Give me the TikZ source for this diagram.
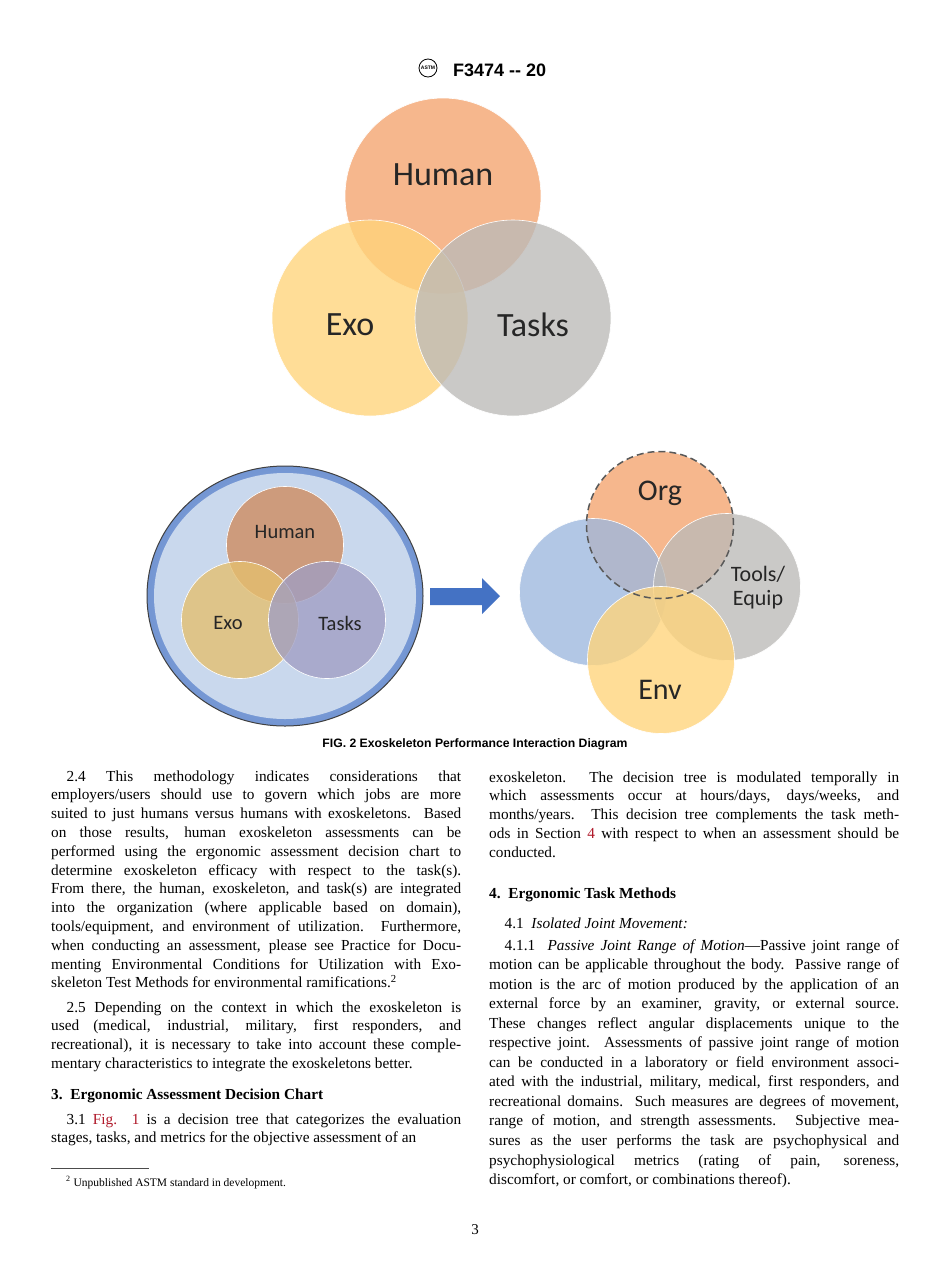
\documentclass[tikz,border=0pt]{standalone}
\usepackage{fontspec}
\setmainfont{Liberation Serif}
\newfontfamily\carl{Carlito}
\newfontfamily\arial{Liberation Sans}
\usetikzlibrary{shapes.geometric}
\definecolor{hum}{HTML}{F4A46E}
\definecolor{exo}{HTML}{FFD47A}
\definecolor{tsk}{HTML}{BCBAB8}
\definecolor{blu}{HTML}{9DB8DE}
\definecolor{lnk}{HTML}{B0192A}
\definecolor{arr}{HTML}{4472C4}
\newcommand{\bodyf}{\fontsize{15.3}{18.8}\selectfont}
\begin{document}
\begin{tikzpicture}[x=1pt,y=-1pt,
 vc/.style={circle,minimum size=#1,inner sep=0,draw=white,line width=0.6pt,fill opacity=0.78},
 lab/.style={font=\carl,text=black!85},
 txt/.style={anchor=base west,inner sep=0,text width=410pt,align=justify,font=\bodyf},
 hd/.style={anchor=base west,inner sep=0,font=\bodyf\bfseries}]
\useasboundingbox (0,0) rectangle (950,1272);
\fill[white] (0,0) rectangle (950,1272);
% header
\node[circle,draw,line width=0.8pt,minimum size=18pt,inner sep=0,font=\arial\bfseries\fontsize{5}{5}\selectfont] (logo) at (428,68) {ASTM};
\node[anchor=base west,inner sep=0,font=\arial\bfseries\fontsize{18}{18}\selectfont] (title) at (453,76) {F3474 -- 20};
% top venn
\node[vc=196pt,fill=hum] (human) at (443,196) {};
\node[vc=196pt,fill=exo] (exo) at (370,318) {};
\node[vc=196pt,fill=tsk] (tasks) at (513,318) {};
\node[lab,font=\carl\fontsize{34}{34}\selectfont] (lh) at (443,175) {Human};
\node[lab,font=\carl\fontsize{34}{34}\selectfont] (le) at (350,325) {Exo};
\node[lab,font=\carl\fontsize{34}{34}\selectfont] (lt) at (533,325) {Tasks};
% bottom left
\node[ellipse,minimum width=276pt,minimum height=260pt,inner sep=0,draw=black!75,line width=1pt,inner color=arr!40,outer color=arr!75] (big) at (285,596) {};
\node[ellipse,minimum width=262pt,minimum height=246pt,inner sep=0,fill=blu!55] (bigin) at (285,596) {};
\node[vc=117pt,fill=hum!85!black] (h2) at (285,545) {};
\node[vc=117pt,fill=exo!90!black] (e2) at (240,620) {};
\node[vc=117pt,fill=tsk!85!blue] (t2) at (327,620) {};
\node[lab,font=\carl\fontsize{20.5}{20.5}\selectfont] at (285,532) {Human};
\node[lab,font=\carl\fontsize{20.5}{20.5}\selectfont] at (228,623) {Exo};
\node[lab,font=\carl\fontsize{20.5}{20.5}\selectfont] at (340,623) {Tasks};
% arrow
\fill[arr] (430,588) -- (482,588) -- (482,578) -- (500,596) -- (482,614) -- (482,605) -- (430,605) -- cycle;
% bottom right
\node[vc=147pt,fill=hum] (org) at (660,525) {};
\node[vc=147pt,fill=blu] (bl) at (593,592) {};
\node[vc=147pt,fill=tsk] (tool) at (727,587) {};
\node[vc=147pt,fill=exo] (env) at (661,660) {};
\draw[black!65,dashed,dash pattern=on 7pt off 4pt,line width=1.5pt] (org) circle (73.5pt);
\node[lab,font=\carl\fontsize{30}{30}\selectfont] at (660,493) {Org};
\node[lab,font=\carl\fontsize{22}{24}\selectfont,align=center] at (758,588) {Tools/\\Equip};
\node[lab,font=\carl\fontsize{30}{30}\selectfont] at (660,690) {Env};
\node[font=\arial\bfseries\fontsize{12.2}{12}\selectfont] (cap) at (475,744) {FIG. 2 Exoskeleton Performance Interaction Diagram};
% left column
\node[txt] (p24) at (51,781) {\hspace*{15.5pt}2.4 This methodology indicates considerations that\linebreak
employers/users should use to govern which jobs are more\linebreak
suited to just humans versus humans with exoskeletons. Based\linebreak
on those results, human exoskeleton assessments can be\linebreak
performed using the ergonomic assessment decision chart to\linebreak
determine exoskeleton efficacy with respect to the task(s).\linebreak
From there, the human, exoskeleton, and task(s) are integrated\linebreak
into the organization (where applicable based on domain),\linebreak
tools/equipment, and environment of utilization. Furthermore,\linebreak
when conducting an assessment, please see Practice for Docu-\linebreak
menting Environmental Conditions for Utilization with Exo-\linebreak
skeleton Test Methods for environmental ramifications.\textsuperscript{2}};
\node[txt] (p25) at (51,1012) {\hspace*{15.5pt}2.5 Depending on the context in which the exoskeleton is\linebreak
used (medical, industrial, military, first responders, and\linebreak
recreational), it is necessary to take into account these comple-\linebreak
mentary characteristics to integrate the exoskeletons better.};
\node[hd] (h3) at (51,1099) {3.\ \ Ergonomic Assessment Decision Chart};
\node[txt] (p31) at (51,1124) {\hspace*{15.5pt}3.1 \textcolor{lnk}{Fig. 1} is a decision tree that categorizes the evaluation\linebreak
stages, tasks, and metrics for the objective assessment of an};
\draw[black!70,line width=0.6pt] (51,1168) -- (149,1168);
\node[anchor=base west,inner sep=0,font=\fontsize{11.5}{13}\selectfont] (fn) at (66,1186) {\textsuperscript{2} Unpublished ASTM standard in development.};
\node[anchor=base,inner sep=0,font=\fontsize{15}{15}\selectfont] (pg) at (475,1234) {3};
% right column
\node[txt] (pr1) at (489,782) {exoskeleton. The decision tree is modulated temporally in\linebreak
which assessments occur at hours/days, days/weeks, and\linebreak
months/years. This decision tree complements the task meth-\linebreak
ods in Section \textcolor{lnk}{4} with respect to when an assessment should be\linebreak
conducted.};
\node[hd] (h4) at (489,898) {4.\ \ Ergonomic Task Methods};
\node[txt] (p41) at (489,928) {\hspace*{15.5pt}4.1\ \ \textit{Isolated Joint Movement:}};
\node[txt,font=\fontsize{15.3}{19.55}\selectfont] (p411) at (489,950) {\hspace*{15.5pt}4.1.1\ \ \textit{Passive Joint Range of Motion}---Passive joint range of\linebreak
motion can be applicable throughout the body. Passive range of\linebreak
motion is the arc of motion produced by the application of an\linebreak
external force by an examiner, gravity, or external source.\linebreak
These changes reflect angular displacements unique to the\linebreak
respective joint. Assessments of passive joint range of motion\linebreak
can be conducted in a laboratory or field environment associ-\linebreak
ated with the industrial, military, medical, first responders, and\linebreak
recreational domains. Such measures are degrees of movement,\linebreak
range of motion, and strength assessments. Subjective mea-\linebreak
sures as the user performs the task are psychophysical and\linebreak
psychophysiological metrics (rating of pain, soreness,\linebreak
discomfort, or comfort, or combinations thereof).};
\end{tikzpicture}
\end{document}
